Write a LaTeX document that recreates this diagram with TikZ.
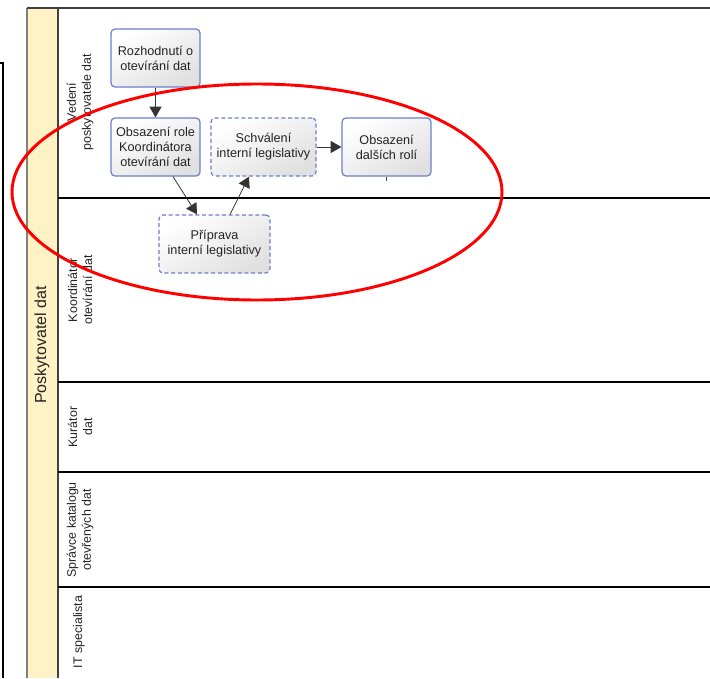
\documentclass[tikz,border=0pt]{standalone}
\usepackage{fontspec}
\setmainfont{Liberation Sans}
\usetikzlibrary{arrows.meta,calc}
\definecolor{poolyellow}{RGB}{255,242,196}
\definecolor{taskblue}{RGB}{110,125,205}
\definecolor{txtgray}{RGB}{35,35,35}
\begin{document}
\begin{tikzpicture}[x=0.75pt,y=-0.75pt,
  task/.style={draw=taskblue, line width=0.9pt, rounded corners=3pt,
    top color=white, bottom color=black!12, shading angle=30,
    align=center, font=\fontsize{9.5}{11.25}\selectfont, text=txtgray,
    minimum height=43.5pt, inner sep=1pt},
  subtask/.style={task, dash pattern=on 3pt off 2pt},
  lanelabel/.style={rotate=90, align=center,
    font=\fontsize{9.3}{11.25}\selectfont, text=txtgray},
  flow/.style={draw=black!80, line width=0.6pt, -{Triangle[length=8pt,width=9pt]}}]
\useasboundingbox (0,0) rectangle (710,678);
% pool band and frame
\fill[poolyellow] (27,8) rectangle (58,678);
\draw[gray, line width=1pt] (27,8) -- (27,678);
\draw[black!75, line width=1.3pt] (58,8) -- (58,678);
\draw[black!75, line width=1.5pt] (27,8) -- (710,8);
\draw[line width=1.2pt] (0,63) -- (3,63) -- (3,678);
% lanes
\foreach \y in {198,382,472,587}
  \draw[line width=1.5pt] (58,\y) -- (710,\y);
\node[lanelabel, font=\fontsize{12}{14}\selectfont] (pool) at (42,345) {Poskytovatel dat};
\node[lanelabel] (vedeni) at (80,102) {Vedení\\poskytovatele dat};
\node[lanelabel] (koordinator) at (80,290) {Koordinátor\\otevírání dat};
\node[lanelabel] (kurator) at (80,427) {Kurátor\\dat};
\node[lanelabel] (spravce) at (80,530) {Správce katalogu\\otevřených dat};
\node[lanelabel] (itspec) at (79,632) {IT specialista};
% tasks
\node[task, minimum width=66.75pt] (rozhodnuti) at (155.5,58) {Rozhodnutí o\\otevírání dat};
\node[task, minimum width=66.75pt] (obsazeniRole) at (155.5,147) {Obsazení role\\Koordinátora\\otevírání dat};
\node[subtask, minimum width=78.75pt] (schvaleni) at (263.5,147) {Schválení\\interní legislativy};
\node[task, minimum width=66.75pt] (obsazeniDalsi) at (386.5,147) {Obsazení\\dalších rolí};
\node[subtask, minimum width=83.25pt] (priprava) at (214.5,244) {Příprava\\interní legislativy};
% flows
\draw[flow] (rozhodnuti) -- (obsazeniRole);
\draw[flow] ($(obsazeniRole.south)+(17.5,0)$) -- ($(priprava.north)+(-17.5,0)$);
\draw[flow] ($(priprava.north)+(15.5,0)$) -- ($(schvaleni.south)+(-14.5,0)$);
\draw[flow] (schvaleni) -- (obsazeniDalsi);
\draw[black!70, line width=0.6pt] (obsazeniDalsi.south) -- ++(0,4);
% highlight
\draw[red, line width=2.2pt] (257,192) ellipse [x radius=183.75pt, y radius=81pt];
\end{tikzpicture}
\end{document}
